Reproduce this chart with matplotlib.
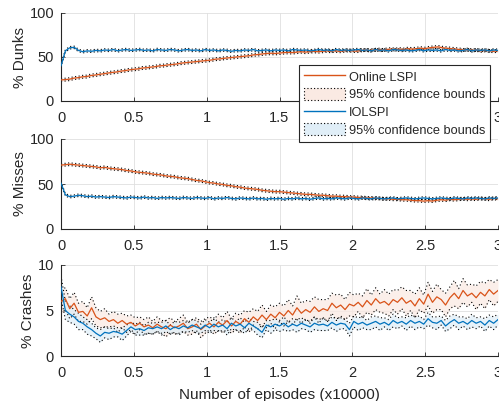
import numpy as np
import matplotlib
matplotlib.use("Agg")
import matplotlib.pyplot as plt
from matplotlib.lines import Line2D
from matplotlib.patches import Patch

plt.rcParams['font.family'] = ['Liberation Sans', 'DejaVu Sans']

# ---------------- data ----------------
x_max = 3.0
xticks = [0, 0.5, 1, 1.5, 2, 2.5, 3]
xticklabels = ["0", "0.5", "1", "1.5", "2", "2.5", "3"]
series_names = ["Online LSPI", "IOLSPI"]
bound_label = "95% confidence bounds"
ylabels = ["% Dunks", "% Misses", "% Crashes"]
xlabel = "Number of episodes (x10000)"

dunks_lspi = [24, 24.3, 24.8, 26, 26.5, 27.5, 27.8, 29, 29.5, 30.3, 31, 31.8, 32.5, 33, 34, 34.5, 35.5,
              36, 36.5, 37.5, 37.8, 38.5, 39, 40, 40.3, 41, 41.5, 42, 43, 43.5, 44, 44.5, 45, 45.5,
              46, 46.5, 47.5, 47.8, 48.5, 49, 49.5, 50, 50.5, 51, 51.5, 52.5, 52.8, 53.5, 54, 54.3, 54, 54.5,
              55, 55.3, 55, 55.5, 56, 55.5, 56, 56.5, 56, 56.5, 57, 56.5, 57, 56.5, 57, 57.5, 57, 56.5,
              57.5, 58, 57.5, 58, 58.5, 58, 58.5, 59, 58.5, 59, 58.5, 59.5, 59, 59.5, 60, 59.5,
              60.5, 61, 61.5, 60.5, 60, 59.5, 59, 58.5, 58, 58.5, 57.5, 58, 57, 57.5, 57, 56.5, 57]
dunks_iolspi = [40, 57, 60.5, 61, 57.5, 56, 57, 56.5, 57.5, 57, 58, 57.5, 58.5, 57, 58, 58.5, 57.5, 58,
                58.5, 57.5, 58, 57, 58.5, 58, 57.5, 58.5, 58, 57, 58, 58.5, 57.5, 58, 57, 58.5, 57.5, 58,
                57, 58, 57.5, 56.5, 57.5, 57, 58, 57.5, 58.5, 57, 57.5, 58, 57, 58, 57.5, 58, 57, 58.5,
                58, 57.5, 58, 57, 57.5, 58.5, 57.5, 58, 57, 58.5, 57.5, 58, 57.5, 58, 58.5, 57.5, 58, 57,
                58.5, 57.5, 58, 57, 58.5, 58, 57.5, 58, 57, 57.5, 58.5, 57, 58, 57.5, 58, 57, 58.5, 57.5,
                58, 57, 57.5, 58.5, 57, 58, 57.5, 58, 57, 58, 57.5]
misses_lspi = [71, 71.5, 72, 71.5, 71, 70.5, 70, 69.5, 69, 68, 68.5, 67.5, 67, 66.5, 66, 65, 64.5,
               63.5, 63, 62.5, 62, 61, 60.5, 60, 59, 58.5, 58, 57, 56.5, 56, 55, 54, 53.5, 52.5,
               51.5, 51, 50, 49.5, 48.5, 48, 47, 46.5, 45.5, 45, 44.5, 44, 43, 42.5, 42, 41.5, 41.5,
               41, 40.5, 40, 39.5, 39, 38.5, 38.5, 38, 37.5, 37.5, 37, 36.5, 36.5, 36, 36, 35.5, 35.5,
               35, 35, 34.5, 34.5, 34, 34, 33.5, 33.5, 33, 33, 32.5, 32.5, 32, 31.5, 31.5, 31,
               31.5, 31, 32, 32.5, 32, 33, 32.5, 33, 33.5, 33, 33.5, 33, 34, 33.5, 33, 34, 33.5]
misses_iolspi = [51, 38, 36, 36.5, 37.5, 37, 36, 36.5, 35.5, 36, 35.5, 35, 36, 35.5, 35, 34.5, 35.5, 35,
                 34.5, 35.5, 34.5, 35, 34, 35, 34.5, 35, 34.5, 34, 35, 34.5, 34, 35, 34.5, 34, 35, 33.5,
                 34.5, 34, 35, 34, 33.5, 34.5, 34, 33.5, 34.5, 33.5, 34, 33, 34, 33.5, 34, 33, 34, 33.5,
                 34.5, 33.5, 34, 33, 34, 34.5, 33.5, 34, 33.5, 34.5, 34, 33.5, 34.5, 34, 33.5, 34.5, 34,
                 33.5, 34.5, 34, 33.5, 34, 34.5, 33.5, 34, 34.5, 34, 33.5, 34, 34.5, 34, 33.5, 34, 34.5,
                 34, 33.5, 34.5, 34, 33.5, 34.5, 34, 34.5, 34, 33.5, 34.5, 34, 34.5]
crashes_lspi = [6.0, 6.3, 5.2, 5.8, 4.8, 4.9, 4.4, 5.3, 4.3, 4.0, 4.2, 3.8, 4.0, 3.6, 3.9, 3.5, 3.7,
                3.3, 3.6, 3.2, 3.4, 3.1, 3.5, 3.2, 3.0, 3.4, 3.1, 3.3, 3.6, 3.0, 3.2, 3.5, 2.9, 3.3,
                3.6, 3.2, 3.7, 3.4, 3.9, 3.3, 3.8, 3.5, 4.1, 3.7, 4.3, 3.9, 4.5, 4.0, 4.6, 4.2, 4.8,
                4.4, 5.0, 4.5, 5.3, 4.7, 5.1, 4.8, 5.4, 4.9, 5.2, 5.0, 5.8, 5.3, 5.6, 5.1, 5.7, 5.5,
                5.9, 5.4, 6.1, 5.6, 6.3, 5.8, 6.0, 5.6, 6.2, 5.9, 6.4, 5.8, 6.1, 5.5, 6.3, 5.7, 6.8,
                5.9, 6.5, 6.2, 5.6, 6.4, 6.9, 6.3, 7.2, 6.6, 6.9, 6.4, 7.0, 6.6, 7.3, 6.8, 7.2]
crashes_iolspi = [7.6, 5.0, 4.6, 4.3, 3.8, 3.6, 3.2, 2.9, 2.5, 2.2, 2.6, 2.5, 2.7, 2.6, 2.4, 2.8, 3.2,
                  2.9, 3.0, 2.8, 3.1, 3.0, 3.2, 3.0, 3.3, 2.9, 3.2, 3.0, 3.3, 3.1, 3.4, 3.2, 3.0, 3.4,
                  3.1, 3.5, 3.2, 3.4, 3.0, 3.6, 3.3, 3.5, 3.1, 3.6, 3.3, 3.0, 2.6, 3.4, 3.2, 3.5, 3.3,
                  3.6, 3.2, 3.5, 3.3, 3.6, 3.4, 3.2, 3.6, 3.4, 3.5, 3.3, 3.7, 3.4, 3.6, 3.5, 2.9, 3.8,
                  3.5, 3.7, 3.4, 3.6, 3.8, 3.5, 3.7, 3.4, 3.9, 3.6, 3.8, 3.5, 3.9, 3.6, 3.8, 3.5, 4.1,
                  3.7, 3.6, 3.9, 3.3, 3.7, 4.0, 3.6, 3.8, 3.5, 3.9, 3.6, 3.8, 3.4, 3.9, 3.6, 4.0]

dunks_lspi_ci = 1.6
dunks_iolspi_ci = 1.4
misses_lspi_ci = 1.5
misses_iolspi_ci = 1.4
crashes_lspi_ci = [1.3, 1.2, 1.1, 1.2, 1.0, 1.1, 0.9, 1.2, 1.0, 0.9, 1.0, 0.8, 0.9, 1.0, 0.8, 0.9, 0.8,
                   0.9, 0.7, 0.8, 0.9, 0.7, 0.8, 0.7, 0.9, 0.8, 0.7, 0.8, 0.9, 0.7, 0.8, 0.7, 0.9, 0.8,
                   0.7, 0.8, 0.9, 0.8, 1.0, 0.8, 0.9, 1.0, 0.9, 1.1, 0.9, 1.0, 1.1, 0.9, 1.0, 1.2, 1.0,
                   1.1, 1.2, 1.0, 1.3, 1.1, 1.0, 1.2, 1.1, 1.3, 1.0, 1.2, 1.1, 1.4, 1.2, 1.1, 1.3, 1.2,
                   1.0, 1.2, 1.3, 1.1, 1.2, 1.0, 1.3, 1.2, 1.1, 1.3, 1.2, 1.4, 1.1, 1.3, 1.2, 1.0, 1.3,
                   1.2, 1.4, 1.1, 1.3, 1.2, 1.4, 1.1, 1.3, 1.2, 1.0, 1.3, 1.2, 1.4, 1.1, 1.3, 1.2]
crashes_iolspi_ci = [1.2, 1.0, 0.9, 0.8, 0.9, 0.7, 0.8, 0.7, 0.6, 0.7, 0.6, 0.7, 0.6, 0.5, 0.7, 0.6, 0.5,
                     0.6, 0.7, 0.5, 0.6, 0.6, 0.5, 0.7, 0.6, 0.5, 0.6, 0.7, 0.6, 0.5, 0.6, 0.7, 0.5, 0.6,
                     0.6, 0.7, 0.5, 0.6, 0.7, 0.6, 0.5, 0.7, 0.6, 0.6, 0.5, 0.7, 0.6, 0.5, 0.7, 0.6, 0.6,
                     0.7, 0.5, 0.6, 0.7, 0.6, 0.5, 0.6, 0.7, 0.6, 0.7, 0.5, 0.6, 0.7, 0.6, 0.5, 0.7, 0.6,
                     0.7, 0.6, 0.5, 0.7, 0.6, 0.7, 0.5, 0.6, 0.7, 0.6, 0.5, 0.7, 0.6, 0.7, 0.6, 0.5, 0.7,
                     0.6, 0.7, 0.5, 0.6, 0.7, 0.6, 0.7, 0.5, 0.6, 0.7, 0.6, 0.5, 0.7, 0.6, 0.7, 0.6]

panels = [
    (dunks_lspi, dunks_lspi_ci, dunks_iolspi, dunks_iolspi_ci, [0, 50, 100], 100),
    (misses_lspi, misses_lspi_ci, misses_iolspi, misses_iolspi_ci, [0, 50, 100], 100),
    (crashes_lspi, crashes_lspi_ci, crashes_iolspi, crashes_iolspi_ci, [0, 5, 10], 10),
]

# ---------------- style ----------------
C_OR = "#D95319"
C_BL = "#0072BD"
F_OR = "#FAEAE3"
F_BL = "#E0EEF7"
AXC = "#262626"
W, H = 499, 401

fig = plt.figure(figsize=(W / 100, H / 100), dpi=100)
boxes = [(13, 101), (139, 229), (265, 356)]
left, right = 61, 498

def draw(ax, y, ci, line_c, fill_c):
    y = np.asarray(y, dtype=float)
    x = np.linspace(0, x_max, len(y))
    hw = np.broadcast_to(np.asarray(ci, dtype=float), y.shape)
    lo, hi = y - hw, y + hw
    ax.fill_between(x, lo, hi, color=fill_c, alpha=0.75, lw=0, zorder=1)
    for b in (lo, hi):
        ax.plot(x, b, color="black", lw=0.8, ls=(0, (1, 2.2)), zorder=2)
    ax.plot(x, y, color=line_c, lw=0.9, zorder=3)

axes = []
for i, ((yo, co, yb, cb, yt, ymax), (top, bot)) in enumerate(zip(panels, boxes)):
    ax = fig.add_axes([left / W, 1 - bot / H, (right - left) / W, (bot - top) / H])
    draw(ax, yo, co, C_OR, F_OR)
    draw(ax, yb, cb, C_BL, F_BL)
    ax.set_xlim(0, x_max)
    ax.set_ylim(0, ymax)
    ax.set_xticks(xticks)
    ax.set_xticklabels(xticklabels)
    ax.set_yticks(yt)
    ax.grid(True, color="#DFDFDF", lw=0.6)
    ax.set_axisbelow(True)
    for s in ("top", "right"):
        ax.spines[s].set_visible(False)
    for s in ("left", "bottom"):
        ax.spines[s].set_color(AXC)
        ax.spines[s].set_linewidth(0.8)
    ax.tick_params(direction="in", length=3, width=0.6, colors=AXC, labelsize=10.5)
    ax.tick_params(axis="x", pad=7)
    ax.tick_params(axis="y", pad=5)
    ax.set_ylabel(ylabels[i], fontsize=11, color=AXC, labelpad=2)
    axes.append(ax)

axes[2].set_xlabel(xlabel, fontsize=11, color=AXC, labelpad=6)

handles = [
    Line2D([], [], color=C_OR, lw=1),
    Patch(facecolor=F_OR, edgecolor="black", linestyle=(0, (1, 2)), lw=0.8),
    Line2D([], [], color=C_BL, lw=1),
    Patch(facecolor=F_BL, edgecolor="black", linestyle=(0, (1, 2)), lw=0.8),
]
labels = [series_names[0], bound_label, series_names[1], bound_label]
leg = fig.legend(handles, labels, loc="upper left", bbox_to_anchor=(299 / W, 1 - 65 / H),
                 borderaxespad=0, fontsize=9.2, frameon=True, fancybox=False,
                 framealpha=1, edgecolor=AXC, handlelength=3.2, handleheight=1.1,
                 handletextpad=0.3, labelspacing=0.33, borderpad=0.4)
leg.get_frame().set_linewidth(0.8)
for t in leg.get_texts():
    t.set_color(AXC)

fig.savefig("out.png", dpi=100)
